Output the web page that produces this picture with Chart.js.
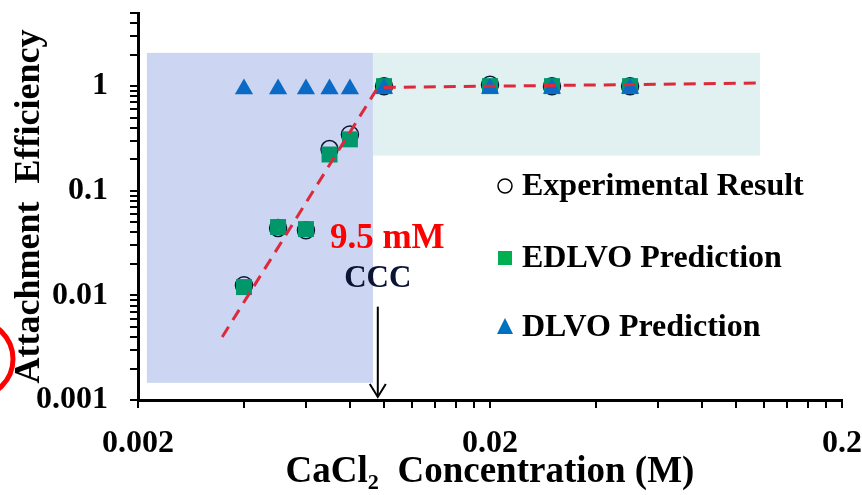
<!DOCTYPE html>
<html><head><meta charset="utf-8">
<script src="https://cdn.jsdelivr.net/npm/chart.js@4.4.0/dist/chart.umd.min.js"></script>
<style>html,body{margin:0;padding:0;background:#fff;}#wrap{width:862px;height:495px;}</style>
</head><body><div id="wrap"><canvas id="c" width="862" height="495"></canvas></div>
<script>
// ---- data ----
const concentrations = [0.004, 0.005, 0.006, 0.007, 0.008, 0.01, 0.02, 0.03, 0.05];
const experimental   = [0.0125, 0.044, 0.042, 0.25, 0.345, 1.0, 1.03, 1.0, 1.0];
const edlvoPred      = [0.012, 0.045, 0.043, 0.222, 0.31, 1.0, 1.0, 1.0, 1.0];
const dlvoPred       = [0.94, 0.94, 0.94, 0.94, 0.94, 0.95, 0.95, 0.95, 0.95];
const fitX = [0.00347, 0.0096, 0.117];
const fitY = [0.004, 0.97, 1.07];
const xTicks = [0.002,0.004,0.006,0.008,0.01,0.012,0.014,0.016,0.018,0.02,0.04,0.06,0.08,0.1,0.12,0.14,0.16,0.18,0.2];
const xTickLabels = {0.002:'0.002', 0.02:'0.02', 0.2:'0.2'};
const yTicks = [0.001,0.002,0.003,0.004,0.005,0.006,0.007,0.008,0.009,0.01,0.02,0.03,0.04,0.05,0.06,0.07,0.08,0.09,0.1,0.2,0.3,0.4,0.5,0.6,0.7,0.8,0.9,1,2,3,4,5];
const yTickLabels = {0.001:'0.001', 0.01:'0.01', 0.1:'0.1', 1:'1'};
const unfavorableX = [0.00212, 0.0093];
const unfavorableY = [0.00146, 2.08];
const favorableX = [0.0093, 0.117];
const favorableY = [0.217, 2.08];
const cccValue = 0.0096;
const arrowY = [0.0078, 0.00107];
const cccLabel = 'CCC';
const cccValueLabel = '9.5 mM';
const cccValuePos = [0.00702, 0.0346];
const cccLabelPos = [0.0096, 0.0142];
const seriesNames = ['Experimental Result', 'EDLVO Prediction', 'DLVO Prediction'];

const FONT = "'Liberation Serif', 'Times New Roman', serif";

const pts = (xs, ys) => xs.map((x, i) => ({x, y: ys[i]}));

const overlay = {
  id: 'overlay',
  beforeDatasetsDraw(chart) {
    const {ctx, scales: {x, y}} = chart;
    const rect = (xs, ys, color) => {
      const x0 = x.getPixelForValue(xs[0]), x1 = x.getPixelForValue(xs[1]);
      const y0 = y.getPixelForValue(ys[1]), y1 = y.getPixelForValue(ys[0]);
      ctx.fillStyle = color;
      ctx.fillRect(x0, y0, x1 - x0, y1 - y0);
    };
    ctx.save();
    rect(unfavorableX, unfavorableY, '#CCD5F1');
    rect(favorableX, favorableY, '#E1F1F1');
    ctx.restore();
  },
  afterDraw(chart) {
    const {ctx, scales: {x, y}} = chart;
    ctx.save();
    // annotations
    ctx.font = 'bold 35px ' + FONT;
    ctx.fillStyle = '#FF0000';
    ctx.textAlign = 'left'; ctx.textBaseline = 'middle';
    ctx.fillText(cccValueLabel, x.getPixelForValue(cccValuePos[0]), y.getPixelForValue(cccValuePos[1]));
    ctx.font = 'bold 31px ' + FONT;
    ctx.fillStyle = '#0B1533';
    ctx.textAlign = 'center';
    ctx.fillText(cccLabel, x.getPixelForValue(cccLabelPos[0]), y.getPixelForValue(cccLabelPos[1]));
    // arrow
    const ax = x.getPixelForValue(cccValue);
    const ay0 = y.getPixelForValue(arrowY[0]), ay1 = y.getPixelForValue(arrowY[1]);
    ctx.strokeStyle = '#000'; ctx.lineWidth = 2;
    ctx.beginPath(); ctx.moveTo(ax, ay0); ctx.lineTo(ax, ay1); ctx.stroke();
    ctx.beginPath(); ctx.moveTo(ax - 8, ay1 - 13); ctx.lineTo(ax, ay1); ctx.lineTo(ax + 8, ay1 - 13); ctx.stroke();
    // legend
    const lx = 505, tx = 522, rows = [186, 258, 327];
    ctx.font = 'bold 32px ' + FONT;
    ctx.fillStyle = '#000'; ctx.textAlign = 'left'; ctx.textBaseline = 'middle';
    seriesNames.forEach((n, i) => ctx.fillText(n, tx, rows[i] + 1));
    ctx.lineWidth = 1.5; ctx.strokeStyle = '#000';
    ctx.beginPath(); ctx.arc(lx, rows[0], 7, 0, Math.PI * 2); ctx.stroke();
    ctx.fillStyle = '#00B050'; ctx.fillRect(lx - 7, rows[1] - 7, 14, 14);
    ctx.fillStyle = '#0070C0';
    ctx.beginPath(); ctx.moveTo(lx, rows[2] - 9); ctx.lineTo(lx + 8, rows[2] + 7); ctx.lineTo(lx - 8, rows[2] + 7); ctx.closePath(); ctx.fill();
    // red circle annotation at left edge
    ctx.strokeStyle = '#FF0000'; ctx.lineWidth = 5;
    ctx.beginPath(); ctx.arc(-25, 359, 38, 0, Math.PI * 2); ctx.stroke();
    ctx.restore();
  }
};

new Chart(document.getElementById('c'), {
  type: 'scatter',
  data: {
    datasets: [
      { label: 'fit', type: 'line', data: pts(fitX, fitY), borderColor: '#DD2A3A', borderWidth: 3,
        borderDash: [12, 8], pointRadius: 0, fill: false, tension: 0, order: 0 },
      { label: seriesNames[2], data: pts(concentrations, dlvoPred), pointStyle: 'triangle', pointRadius: 10.5,
        backgroundColor: '#0A6AC6', borderColor: '#0A6AC6', borderWidth: 0, order: 1 },
      { label: seriesNames[1], data: pts(concentrations, edlvoPred), pointStyle: 'rect', pointRadius: 11.3,
        backgroundColor: '#00986A', borderColor: '#00986A', borderWidth: 0, order: 2 },
      { label: seriesNames[0], data: pts(concentrations, experimental), pointStyle: 'circle', pointRadius: 8.5,
        backgroundColor: 'rgba(0,0,0,0)', borderColor: '#0B1533', borderWidth: 1.5, order: 3 }
    ]
  },
  options: {
    responsive: false, animation: false, devicePixelRatio: 1,
    layout: { padding: { left: 0, right: 20, top: 13, bottom: 0 } },
    plugins: { legend: { display: false }, tooltip: { enabled: false } },
    scales: {
      x: {
        type: 'logarithmic', min: 0.002, max: 0.2,
        afterBuildTicks: s => { s.ticks = xTicks.map(v => ({value: v})); },
        afterFit: s => { s.height = 95; s.paddingLeft = 0; s.paddingRight = 0; },
        ticks: { autoSkip: false, maxRotation: 0, padding: 17, color: '#000',
          font: { family: FONT, size: 32, weight: 'bold' },
          callback: v => xTickLabels[v] || '' },
        grid: { drawOnChartArea: false, drawTicks: true, tickLength: 8, color: '#000', lineWidth: 2 },
        border: { color: '#000', width: 3 },
        title: { display: true, text: 'CaCl₂  Concentration (M)', color: '#000',
          font: { family: FONT, size: 37, weight: 'bold' }, padding: { top: -2, bottom: 0 } }
      },
      y: {
        type: 'logarithmic', min: 0.001, max: 5,
        afterBuildTicks: s => { s.ticks = yTicks.map(v => ({value: v})); },
        afterFit: s => { s.width = 138; s.paddingTop = 0; s.paddingBottom = 0; },
        ticks: { autoSkip: false, padding: 22, color: '#000',
          font: { family: FONT, size: 32, weight: 'bold' },
          callback: v => yTickLabels[v] || '' },
        grid: { drawOnChartArea: false, drawTicks: true, tickLength: 8, color: '#000', lineWidth: 2 },
        border: { color: '#000', width: 3 },
        title: { display: true, text: 'Attachment  Efficiency', color: '#000',
          font: { family: FONT, size: 36, weight: 'bold' }, padding: { top: 8, bottom: 0 } }
      }
    }
  },
  plugins: [overlay]
});
</script></body></html>
